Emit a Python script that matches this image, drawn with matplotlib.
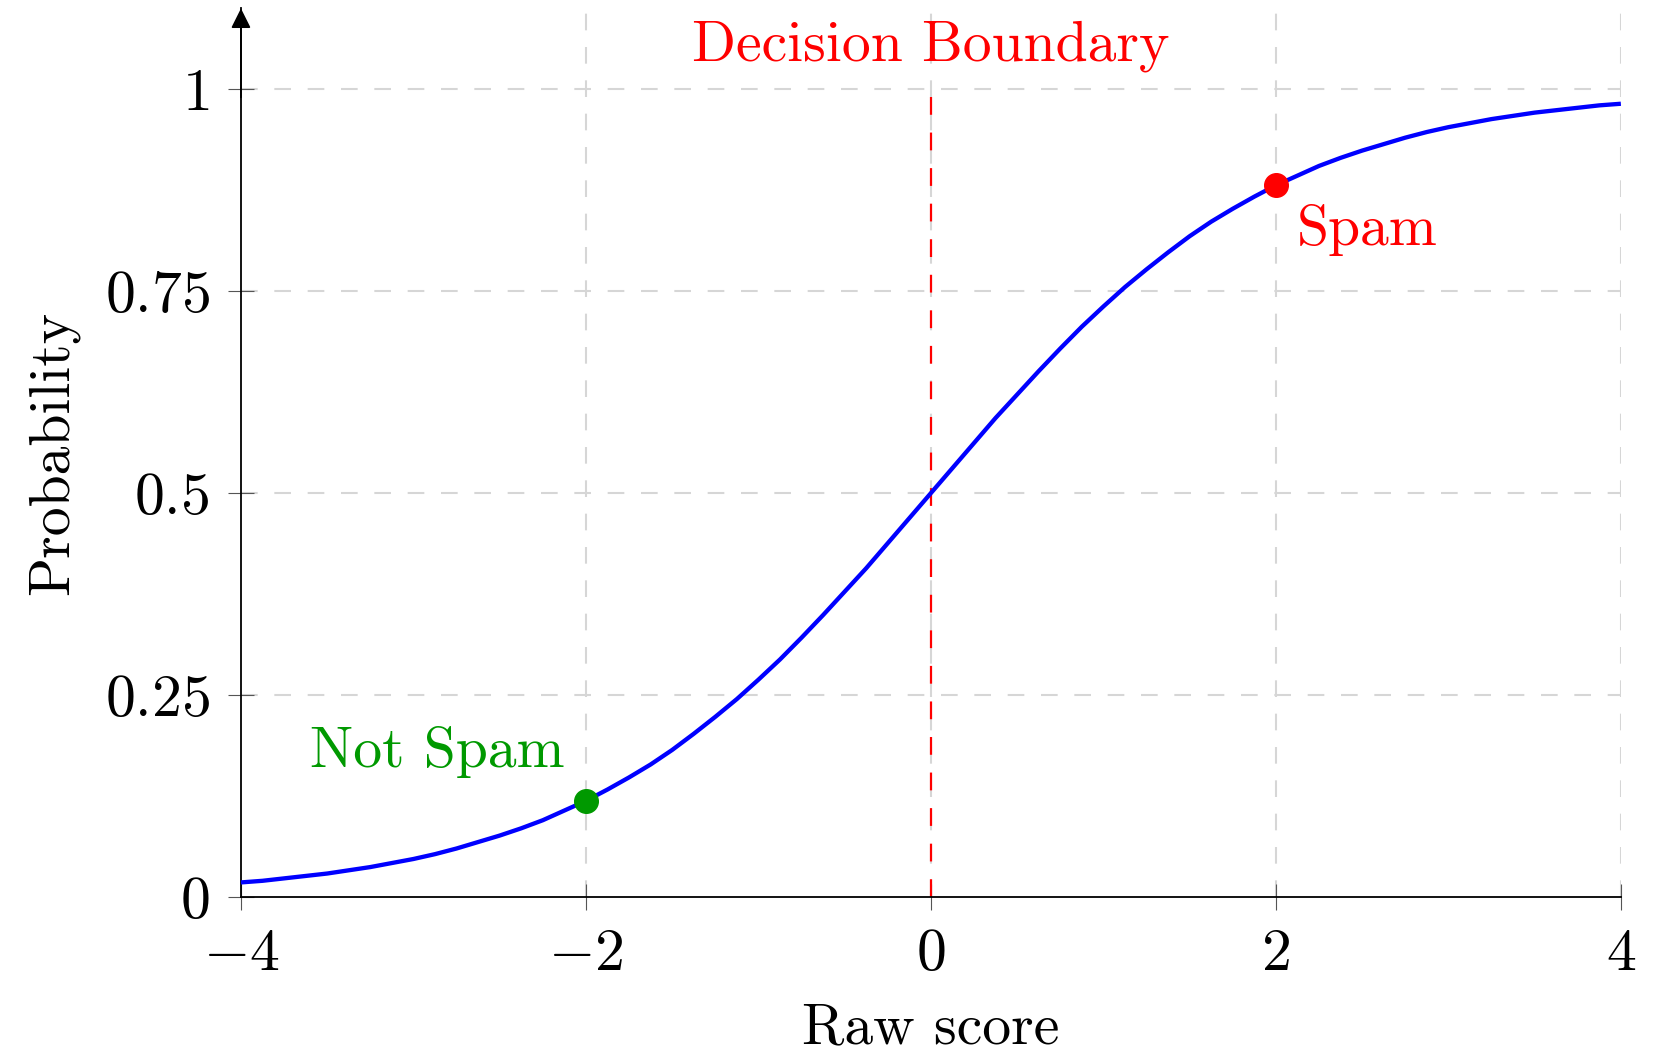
import matplotlib
matplotlib.use("Agg")
import matplotlib.pyplot as plt

plt.rcParams["font.family"] = "serif"
plt.rcParams["font.serif"] = ["cmr10"]
plt.rcParams["mathtext.fontset"] = "cm"
plt.rcParams["axes.unicode_minus"] = False

# values (every 0.125 on the raw score axis)
raw_score = [-4.0, -3.875, -3.75, -3.625, -3.5, -3.375, -3.25, -3.125,
             -3.0, -2.875, -2.75, -2.625, -2.5, -2.375, -2.25, -2.125,
             -2.0, -1.875, -1.75, -1.625, -1.5, -1.375, -1.25, -1.125,
             -1.0, -0.875, -0.75, -0.625, -0.5, -0.375, -0.25, -0.125,
             0.0, 0.125, 0.25, 0.375, 0.5, 0.625, 0.75, 0.875,
             1.0, 1.125, 1.25, 1.375, 1.5, 1.625, 1.75, 1.875,
             2.0, 2.125, 2.25, 2.375, 2.5, 2.625, 2.75, 2.875,
             3.0, 3.125, 3.25, 3.375, 3.5, 3.625, 3.75, 3.875, 4.0]
probability = [0.018, 0.020, 0.023, 0.026, 0.029, 0.033, 0.037, 0.042,
               0.047, 0.053, 0.060, 0.068, 0.076, 0.085, 0.095, 0.107,
               0.119, 0.133, 0.148, 0.164, 0.182, 0.202, 0.223, 0.245,
               0.269, 0.294, 0.321, 0.349, 0.378, 0.407, 0.438, 0.469,
               0.500, 0.531, 0.562, 0.593, 0.622, 0.651, 0.679, 0.706,
               0.731, 0.755, 0.777, 0.798, 0.818, 0.836, 0.852, 0.867,
               0.881, 0.893, 0.905, 0.915, 0.924, 0.932, 0.940, 0.947,
               0.953, 0.958, 0.963, 0.967, 0.971, 0.974, 0.977, 0.980, 0.982]

not_spam_pt = (-2.0, 0.119)
spam_pt = (2.0, 0.881)

x_ticks = [-4, -2, 0, 2, 4]
x_tick_labels = [r"$-4$", r"$-2$", r"$0$", r"$2$", r"$4$"]
y_ticks = [0, 0.25, 0.5, 0.75, 1]
y_tick_labels = [r"$0$", r"$0.25$", r"$0.5$", r"$0.75$", r"$1$"]

FS = 41.5
TICK_FS = 43
GREEN = "#009900"

fig = plt.figure(figsize=(16.71, 10.54), dpi=100)
ax = fig.add_axes([0.1442, 0.149, 0.8258, 0.843])

ax.set_xlim(-4, 4)
ax.set_ylim(0, 1.1)

# grid
for yv in y_ticks[1:]:
    ax.plot([-4, 4], [yv, yv], color="#d6d6d6", lw=1.5,
            linestyle=(0, (8, 8)), zorder=1)
for xv in x_ticks[1:]:
    ax.plot([xv, xv], [0, 1.1], color="#d6d6d6", lw=1.5,
            linestyle=(0, (8, 8)), zorder=1)

# decision boundary
ax.plot([0, 0], [0, 1], color="red", lw=1.6, linestyle=(0, (8, 8)), zorder=2)
ax.text(0, 1.053, "Decision Boundary", color="red", fontsize=FS,
        ha="center", va="center")

# sigmoid
ax.plot(raw_score, probability, color="blue", lw=3.1, zorder=3,
        solid_capstyle="butt", clip_on=False)

ax.plot(*not_spam_pt, "o", color=GREEN, markersize=17, zorder=4)
ax.plot(*spam_pt, "o", color="red", markersize=17, zorder=4)
ax.text(-2.86, 0.18, "Not Spam", color=GREEN, fontsize=FS,
        ha="center", va="center")
ax.text(2.12, 0.826, "Spam", color="red", fontsize=FS,
        ha="left", va="center")

# axes
for side in ["top", "right"]:
    ax.spines[side].set_visible(False)
ax.spines["left"].set_linewidth(1.3)
ax.spines["bottom"].set_linewidth(1.3)
ax.annotate("", xy=(0, 1.0), xycoords="axes fraction",
            xytext=(0, 0.9), textcoords="axes fraction",
            arrowprops=dict(arrowstyle="-|>", color="black", lw=1.3,
                            mutation_scale=30, shrinkA=0, shrinkB=0))

ax.set_xticks(x_ticks)
ax.set_xticklabels(x_tick_labels)
ax.set_yticks(y_ticks)
ax.set_yticklabels(y_tick_labels)
ax.tick_params(direction="inout", length=19, width=0.8, color="#555555",
               labelsize=TICK_FS, pad=13)

ax.set_xlabel("Raw score", fontsize=FS, labelpad=15)
ax.set_ylabel("Probability", fontsize=FS, labelpad=18)

fig.savefig("out.png", dpi=100)
